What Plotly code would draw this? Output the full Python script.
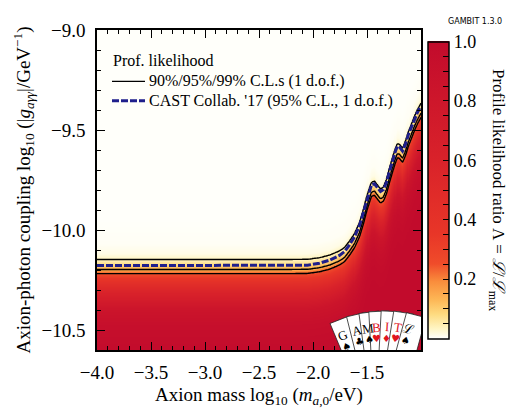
import numpy as np
import plotly.graph_objects as go

# 95% C.L. boundaries (log10 mass [eV] -> log10 coupling [1/GeV])
mass = [-4.0, -3.0, -2.4, -2.2, -2.05, -1.94, -1.847, -1.755, -1.708, -1.662, -1.616,
        -1.569, -1.532, -1.505, -1.477, -1.458, -1.431, -1.403, -1.375, -1.347, -1.319,
        -1.292, -1.264, -1.236, -1.218, -1.199, -1.171, -1.144, -1.116, -1.088, -1.060,
        -1.032, -1.0]
cast_95 = [-10.178, -10.178, -10.178, -10.178, -10.176, -10.166, -10.151, -10.127, -10.108,
           -10.074, -10.035, -9.977, -9.910, -9.851, -9.803, -9.774, -9.769, -9.789, -9.808,
           -9.798, -9.760, -9.706, -9.653, -9.605, -9.581, -9.585, -9.605, -9.571, -9.522,
           -9.484, -9.445, -9.411, -9.380]
prof_95 = [-10.198, -10.198, -10.198, -10.198, -10.197, -10.189, -10.176, -10.155, -10.138,
           -10.106, -10.069, -10.013, -9.947, -9.889, -9.841, -9.811, -9.806, -9.826, -9.845,
           -9.835, -9.797, -9.743, -9.690, -9.642, -9.618, -9.622, -9.642, -9.608, -9.559,
           -9.521, -9.482, -9.448, -9.417]

# profile likelihood ratio against distance (in log10 g) from the 95% contour
prof_dy = [-0.70, -0.40, -0.28, -0.20, -0.12, -0.06, -0.02, 0.0, 0.025, 0.05, 0.08, 0.13, 0.25, 2.0]
prof_lam = [1.0, 0.99, 0.93, 0.84, 0.62, 0.42, 0.26, 0.147, 0.08, 0.036, 0.012, 0.003, 0.0, 0.0]

# 90/95/99% C.L. for 1 d.o.f. as likelihood ratios
cl_levels = [0.0362, 0.1465, 0.2585]

x_ticks = [-4.0, -3.5, -3.0, -2.5, -2.0, -1.5]
y_ticks = [-10.5, -10.0, -9.5, -9.0]
cbar_major = [0.2, 0.4, 0.6, 0.8, 1.0]

legend_title = "Prof. likelihood"
legend_labels = ["90%/95%/99% C.L.s (1 d.o.f.)", "CAST Collab. '17 (95% C.L., 1 d.o.f.)"]

# GAMBIT logo cards
card_letters = ["G", "A", "M", "B", "I", "T", "ℒ"]
card_suits = ["♠", "♣", "♠", "♥", "♦", "♥", "♠"]
card_colors = ["black", "black", "black", "#e0141e", "#e0141e", "#e0141e", "black"]
card_angles = [-22, -13.6, -7.6, -2.9, 2.9, 8.8, 14.8]

X_RANGE = [-4.0, -1.0]
Y_RANGE = [-10.6, -9.0]
# page body has an 8px margin, so the figure is a bit smaller and shifted
W, H = 506, 410
M_L, M_R, M_T, M_B = 89, 93, 12, 68
PW, PH = W - M_L - M_R, H - M_T - M_B

NAVY = "#1f1f8c"
SERIF = "Liberation Serif"

colorscale = [
    [0.0, "#fffffa"], [0.03, "#fff6c6"], [0.08, "#fedb80"], [0.13, "#fdb655"],
    [0.19, "#f98d3c"], [0.25, "#f04c2a"], [0.35, "#e83628"], [0.60, "#d9222a"],
    [1.0, "#c20b2c"],
]

xg = np.linspace(X_RANGE[0], X_RANGE[1], 301)
yg = np.linspace(Y_RANGE[0], Y_RANGE[1], 321)
bound = np.interp(xg, mass, prof_95)
z = np.interp(yg[:, None] - bound[None, :], prof_dy, prof_lam)

cb_ticks = [round(0.05 * k, 2) for k in range(1, 21)]
cb_text = [f"{v:.1f}" if any(abs(v - m) < 1e-6 for m in cbar_major) else "" for v in cb_ticks]

fig = go.Figure()
fig.add_trace(go.Heatmap(
    x=xg, y=yg, z=z, zmin=0, zmax=1, colorscale=colorscale, hoverinfo="skip",
    colorbar=dict(
        x=(420 - M_L) / PW, xanchor="left", xpad=0, y=0.5, yanchor="middle",
        len=0.927, ypad=0, thickness=21,
        outlinecolor="black", outlinewidth=1.5,
        tickvals=cb_ticks, ticktext=cb_text, ticks="inside", ticklen=6,
        tickcolor="black", tickwidth=1.2,
        tickfont=dict(family=SERIF, size=18, color="black"),
    ),
))
fig.add_trace(go.Contour(
    x=xg, y=yg, z=z, showscale=False, hoverinfo="skip", showlegend=False,
    colorscale=[[0, "black"], [1, "black"]],
    contours=dict(coloring="lines", start=cl_levels[0], end=cl_levels[-1],
                  size=(cl_levels[-1] - cl_levels[0]) / 2),
    line=dict(width=1.4),
))
fig.add_trace(go.Scatter(
    x=mass, y=cast_95, mode="lines", showlegend=False, hoverinfo="skip",
    line=dict(color=NAVY, width=3, dash="7px,2px"),
))


# page pixel -> paper / data coordinates
def pp(px, py):
    return (px - 8 - M_L) / PW, 1 - (py - 8 - M_T) / PH


def px2data(px, py):
    xp, yp = pp(px, py)
    return (X_RANGE[0] + xp * (X_RANGE[1] - X_RANGE[0]),
            Y_RANGE[0] + yp * (Y_RANGE[1] - Y_RANGE[0]))


# hand-drawn legend
tx, ty = pp(111, 51)
fig.add_annotation(x=tx, y=ty, xref="paper", yref="paper", xanchor="left", yanchor="middle",
                   text=legend_title, showarrow=False, font=dict(family=SERIF, size=16, color="black"))
for label, py, style in zip(legend_labels, [73, 93],
                            [dict(color="black", width=1.4), dict(color=NAVY, width=3, dash="7px,2px")]):
    x0, y0 = pp(112, py)
    x1, _ = pp(145, py)
    fig.add_shape(type="line", xref="paper", yref="paper", x0=x0, x1=x1, y0=y0, y1=y0, line=style)
    lx, _ = pp(147, py)
    fig.add_annotation(x=lx, y=y0, xref="paper", yref="paper", xanchor="left", yanchor="middle",
                       text=label, showarrow=False, font=dict(family=SERIF, size=16, color="black"))

# GAMBIT logo
pivot = (385, 432)


def card_point(a, u, v):
    t = np.radians(a)
    px = pivot[0] + v * np.sin(t) + u * np.cos(t)
    py = pivot[1] - v * np.cos(t) + u * np.sin(t)
    return px, py


for a in card_angles:
    corners = [card_point(a, u, v) for u, v in [(-10, 78), (10, 78), (10, 122), (-10, 122)]]
    pts = [px2data(*c) for c in corners]
    path = "M " + " L ".join(f"{x:.5f},{y:.5f}" for x, y in pts) + " Z"
    fig.add_shape(type="path", path=path, xref="x", yref="y", fillcolor="white",
                  line=dict(color="#222222", width=0.8), layer="above")
for letter, suit, col, a in zip(card_letters, card_suits, card_colors, card_angles):
    lx, ly = px2data(*card_point(a, -3.5, 106))
    sx, sy = px2data(*card_point(a, -3.5, 94))
    fig.add_annotation(x=lx, y=ly, text=letter, showarrow=False, textangle=a,
                       xanchor="center", yanchor="middle",
                       font=dict(family=SERIF, size=13, color=col))
    fig.add_annotation(x=sx, y=sy, text=suit, showarrow=False, textangle=a,
                       xanchor="center", yanchor="middle",
                       font=dict(family="DejaVu Sans", size=10, color=col))

cx, _ = pp(497, 185)
fig.add_annotation(
    x=cx, y=0.5, xref="paper", yref="paper", xanchor="center", yanchor="middle",
    text="Profile likelihood ratio Λ = <i>ℒ</i>/<i>ℒ</i><sub>max</sub>",
    textangle=90, showarrow=False, font=dict(family=SERIF, size=17, color="black"),
)
gx, gy = pp(504, 18)
fig.add_annotation(
    x=gx, y=gy, xref="paper", yref="paper", xanchor="right", yanchor="bottom",
    text="GAMBIT 1.3.0", showarrow=False, font=dict(family="DejaVu Sans", size=8, color="black"),
)

axis_common = dict(
    showgrid=False, zeroline=False, showline=True, linecolor="black", linewidth=1.5,
    mirror="ticks", ticks="inside", ticklen=8, tickwidth=1.2, tickcolor="black",
    tickfont=dict(family=SERIF, size=19, color="black"),
    tickformat=".1f",
    minor=dict(ticks="inside", ticklen=4, tickcolor="black", tickwidth=1, dtick=0.1),
)
fig.update_xaxes(
    range=X_RANGE, tickvals=x_ticks, ticklabelstandoff=4,
    title=dict(text="Axion mass log<sub>10</sub> (<i>m</i><sub><i>a</i>,0</sub>/eV)",
               font=dict(family=SERIF, size=19, color="black"), standoff=6),
    **axis_common,
)
fig.update_yaxes(
    range=Y_RANGE, tickvals=y_ticks, ticklabelstandoff=6,
    title=dict(text="Axion-photon coupling log<sub>10</sub> (|<i>g<sub>aγγ</sub></i>|/GeV<sup>−1</sup>)",
               font=dict(family=SERIF, size=19, color="black"), standoff=6),
    **axis_common,
)
fig.update_layout(
    width=W, height=H, margin=dict(l=M_L, r=M_R, t=M_T, b=M_B),
    paper_bgcolor="white", plot_bgcolor="white",
    font=dict(family=SERIF, color="black"),
    showlegend=False,
)

fig.write_html("out.html")
